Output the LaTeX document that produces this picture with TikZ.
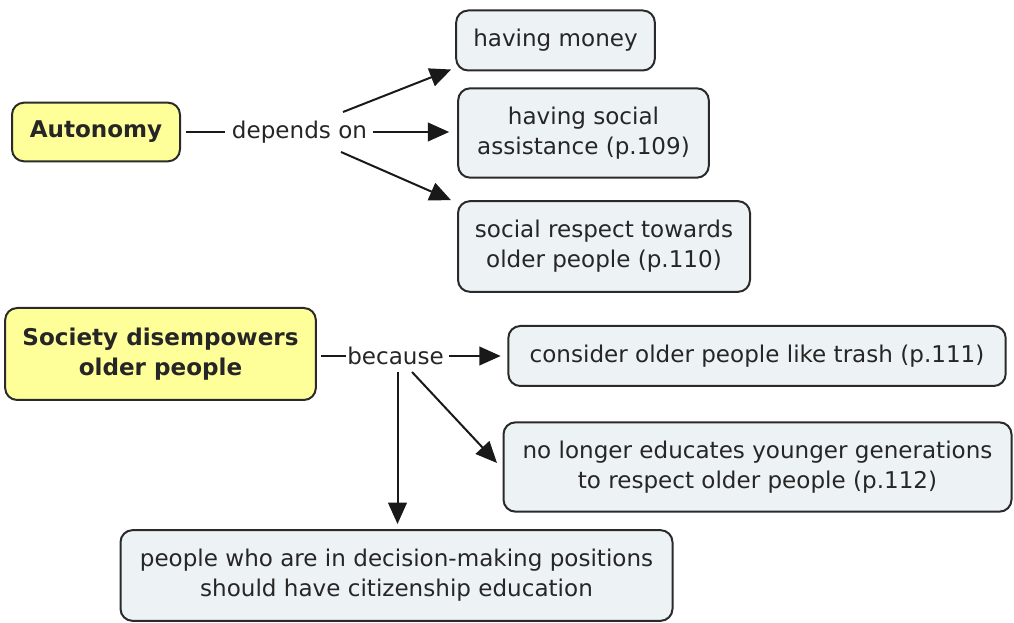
\documentclass[tikz,border=0pt]{standalone}
\usepackage{fontspec}
\setmainfont{DejaVu Sans}
\usetikzlibrary{arrows.meta}
\definecolor{conceptblue}{HTML}{EDF2F4}
\definecolor{conceptyellow}{HTML}{FFFF99}
\definecolor{borderdark}{HTML}{2A2A2A}
\tikzset{
  concept/.style={draw=borderdark, line width=1.5pt, rounded corners=9pt, fill=conceptblue,
    inner sep=0pt, align=center, font=\fontsize{17.3pt}{22.5pt}\selectfont, text=black!85},
  mainconcept/.style={concept, fill=conceptyellow, font=\fontsize{17.3pt}{22.5pt}\selectfont\bfseries},
  linklabel/.style={inner sep=0pt, font=\fontsize{17.3pt}{22.5pt}\selectfont, text=black!85},
  conn/.style={draw=black!90, line width=1.5pt},
  arr/.style={conn, -{Triangle[length=16pt,width=14pt]}}
}
\begin{document}
\begin{tikzpicture}[x=0.75pt,y=-0.75pt]
\useasboundingbox (0,0) rectangle (1014,623);
% concepts
\node[mainconcept, minimum width=126pt, minimum height=44pt] (auto) at (96,132) {Autonomy};
\node[concept, minimum width=149pt, minimum height=45pt] (money) at (555.5,40.5) {having money};
\node[concept, minimum width=188pt, minimum height=67pt] (assist) at (583.5,133) {having social\\assistance (p.109)};
\node[concept, minimum width=219pt, minimum height=68pt] (respect) at (604,246.5) {social respect towards\\older people (p.110)};
\node[mainconcept, minimum width=233pt, minimum height=69pt] (society) at (160.5,354) {Society disempowers\\older people};
\node[concept, minimum width=373pt, minimum height=45pt] (trash) at (757,356) {consider older people like trash (p.111)};
\node[concept, minimum width=381pt, minimum height=67pt] (educ) at (757.5,467) {no longer educates younger generations\\to respect older people (p.112)};
\node[concept, minimum width=414pt, minimum height=68pt] (people) at (396.5,575.5) {people who are in decision-making positions\\should have citizenship education};
% link labels
\node[linklabel] (dep) at (299.5,132) {depends on};
\node[linklabel] (because) at (395.5,356) {because};
% helper coordinates
\coordinate (depUp) at (343,112);
\coordinate (depRight) at (373,132);
\coordinate (depDown) at (341,152);
\coordinate (becLeft) at (346,356);
\coordinate (becRight) at (449,356);
\coordinate (becDown) at (397.5,372);
\coordinate (becDiag) at (412,372);
% connectors
\draw[conn] (auto.east) ++(5,0) -- ([xshift=-5]dep.west);
\draw[arr] (depUp) -- ([shift={(-4,-2)}]money.south west);
\draw[arr] (depRight) -- ([xshift=-6]assist.west |- depRight);
\draw[arr] (depDown) -- ([shift={(-6,0)}]respect.north west);
\draw[conn] ([xshift=3]society.east |- becLeft) -- (becLeft);
\draw[arr] (becRight) -- ([xshift=-5]trash.west);
\draw[arr] (becDown) -- (397.5,524);
\draw[arr] (becDiag) -- (497,463);
\end{tikzpicture}
\end{document}
